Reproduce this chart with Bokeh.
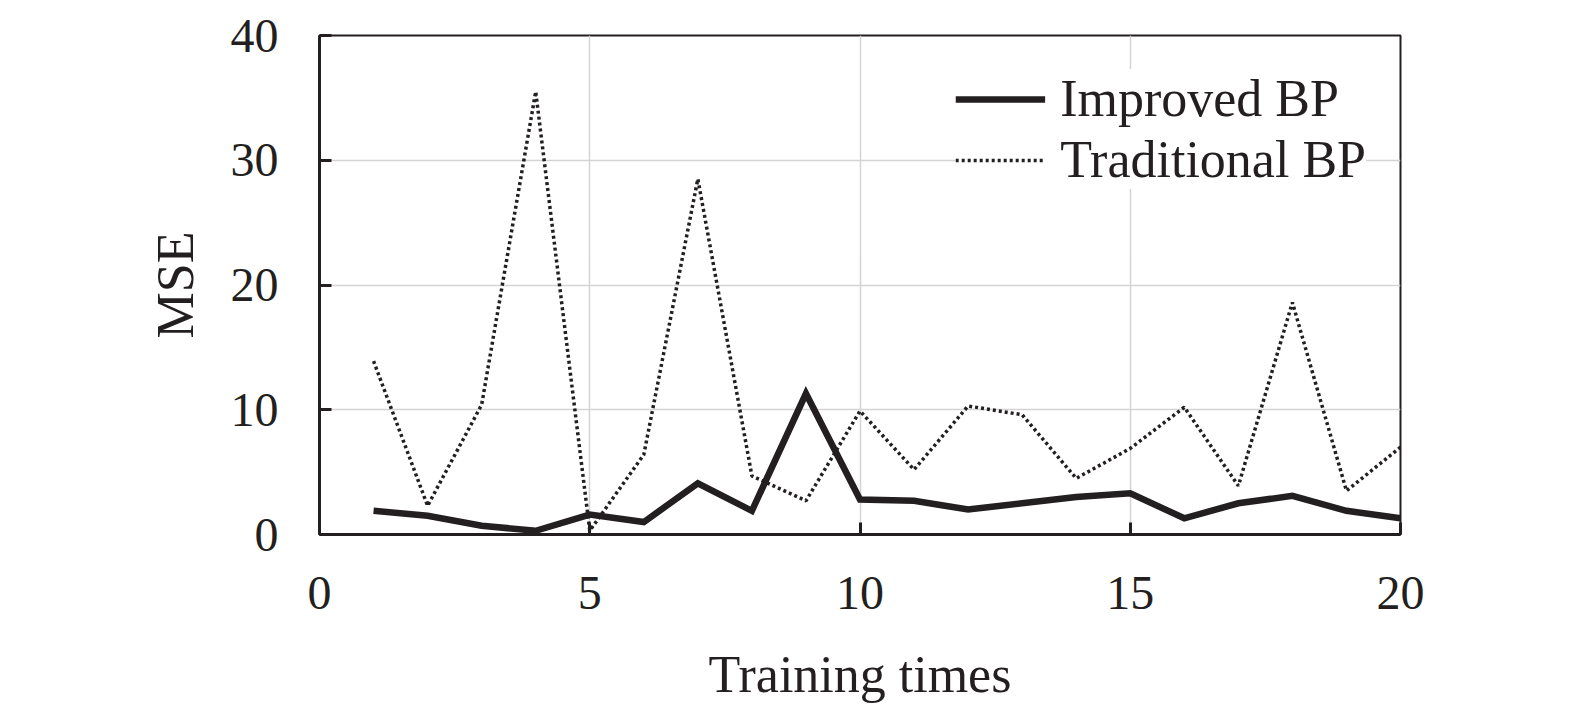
from bokeh.plotting import figure
from bokeh.models import Range1d, Legend, LegendItem, FixedTicker
from bokeh.embed import file_html
from bokeh.resources import INLINE

training_times = list(range(1, 21))
improved_bp = [1.9, 1.5, 0.7, 0.3, 1.6, 1.0, 4.1, 1.9, 11.3, 2.8,
               2.7, 2.0, 2.5, 3.0, 3.3, 1.3, 2.5, 3.1, 1.9, 1.3]
traditional_bp = [13.9, 2.3, 10.4, 35.5, 0.3, 6.4, 28.5, 4.7, 2.7, 9.9,
                  5.2, 10.3, 9.6, 4.5, 6.9, 10.2, 3.9, 18.6, 3.5, 7.0]
x_ticks = [0, 5, 10, 15, 20]
y_ticks = [0, 10, 20, 30, 40]

INK = "#231f20"
FONT = "Liberation Serif"

p = figure(width=1575, height=712, output_backend="svg", toolbar_location=None,
           x_range=Range1d(0, 20), y_range=Range1d(0, 40),
           min_border_left=319, min_border_right=175,
           min_border_top=35, min_border_bottom=178)

r_imp = p.line(training_times, improved_bp, line_color=INK, line_width=6.5,
               line_join="miter")
r_tra = p.line(training_times, traditional_bp, line_color=INK, line_width=3.5,
               line_dash="3 3")

for ax in (p.xaxis[0], p.yaxis[0]):
    ax.axis_line_color = INK
    ax.axis_line_width = 3
    ax.major_tick_in = 12
    ax.major_tick_out = 0
    ax.major_tick_line_color = INK
    ax.major_tick_line_width = 3
    ax.minor_tick_line_color = None
    ax.major_label_text_font = FONT
    ax.major_label_text_font_size = "48px"
    ax.major_label_text_color = INK
    ax.axis_label_text_font = FONT
    ax.axis_label_text_font_size = "52px"
    ax.axis_label_text_font_style = "normal"
    ax.axis_label_text_color = INK

p.xaxis.ticker = FixedTicker(ticks=x_ticks)
p.yaxis.ticker = FixedTicker(ticks=y_ticks)
p.xaxis.axis_label = "Training times"
p.yaxis.axis_label = "MSE"
p.xaxis.major_label_standoff = 42
p.yaxis.major_label_standoff = 41
p.xaxis.axis_label_standoff = 34
p.yaxis.axis_label_standoff = 24

p.xgrid.ticker = FixedTicker(ticks=x_ticks)
p.ygrid.ticker = FixedTicker(ticks=y_ticks)
p.grid.grid_line_color = "#d4d4d4"
p.grid.grid_line_width = 1.5

p.outline_line_color = INK
p.outline_line_width = 2
p.background_fill_color = "white"
p.border_fill_color = "white"

legend = Legend(items=[LegendItem(label="Improved BP", renderers=[r_imp]),
                       LegendItem(label="Traditional BP", renderers=[r_tra])],
                location="top_right")
legend.label_text_font = FONT
legend.label_text_font_size = "52px"
legend.label_text_color = INK
legend.glyph_width = 90
legend.glyph_height = 30
legend.label_standoff = 15
legend.spacing = 2
legend.margin = 34
legend.padding = 10
legend.border_line_color = None
legend.background_fill_color = "white"
legend.background_fill_alpha = 1.0
p.add_layout(legend)

open("out.html", "w").write(file_html(p, INLINE))
